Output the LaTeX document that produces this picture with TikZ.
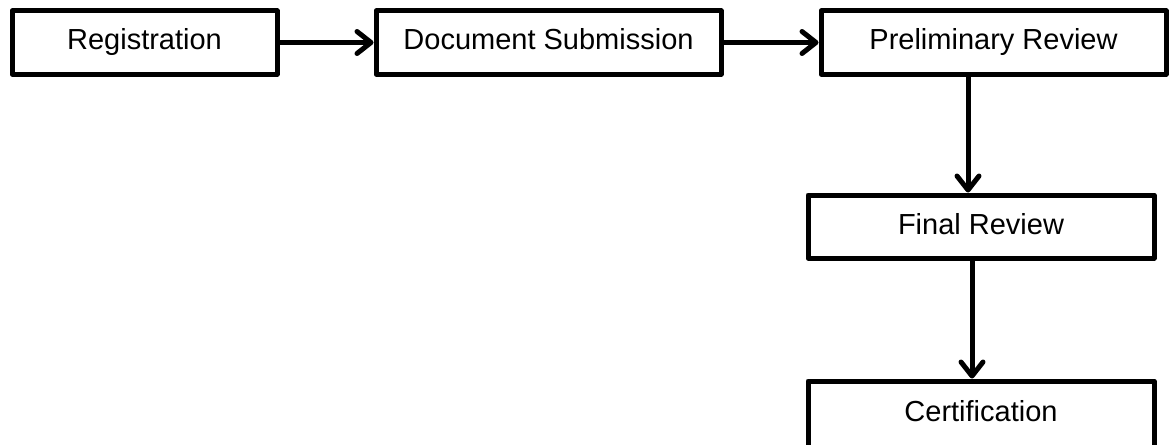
\documentclass[tikz,border=0pt]{standalone}
\usepackage{fontspec}
\setmainfont{Liberation Sans}
\usetikzlibrary{arrows.meta}
\begin{document}
\begin{tikzpicture}[x=1pt,y=-1pt,
  box/.style={draw=black, line width=5pt, fill=white, inner sep=0pt,
    text height=21pt, text depth=6pt, font=\fontsize{29pt}{35pt}\selectfont,
    minimum height=63pt, line join=round},
  conn/.style={line width=5pt, -{Straight Barb[length=14pt,width=22pt,line cap=round,line join=round]}}]
\useasboundingbox (0,0) rectangle (1174,444);
\node[box, minimum width=265pt] (b1) at (144.5,42.5) {Registration};
\node[box, minimum width=345pt] (b2) at (548.5,42.5) {Document Submission};
\node[box, minimum width=345pt] (b3) at (993.5,42.5) {Preliminary Review};
\node[box, minimum width=346pt] (b4) at (981,226.5) {Final Review};
\node[box, minimum width=346pt, minimum height=66pt] (b5) at (981,414) {Certification};
\draw[conn] (b1.east) -- (b2.west);
\draw[conn] (b2.east) -- (b3.west);
\draw[conn] ([xshift=-25.5pt]b3.south) -- ([xshift=-13pt]b4.north);
\draw[conn] ([xshift=-9pt]b4.south) -- ([xshift=-9pt]b5.north);
\end{tikzpicture}
\end{document}
